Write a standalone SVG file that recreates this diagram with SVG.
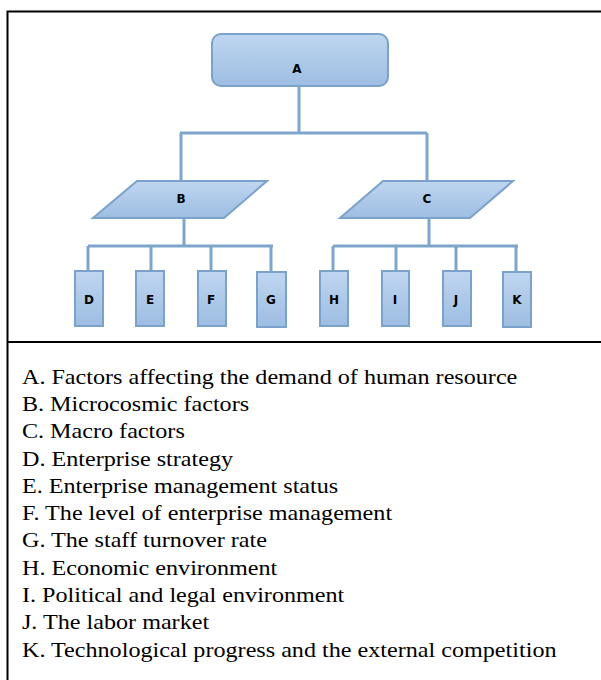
<svg xmlns="http://www.w3.org/2000/svg" width="601" height="680" viewBox="0 0 601 680">
<defs>
<linearGradient id="g" x1="0" y1="0" x2="0" y2="1">
<stop offset="0" stop-color="#bfd6f0"/>
<stop offset="1" stop-color="#9dbde2"/>
</linearGradient>
</defs>
<style>
.n{fill:url(#g);stroke:#7ba2ca;stroke-width:2}
.c{fill:none;stroke:#7ea6cc;stroke-width:3}
.l{font-family:"DejaVu Sans",Verdana,sans-serif;font-weight:bold;font-size:12px;fill:#000;text-anchor:middle}
.t{font-family:"Liberation Serif","Times New Roman",serif;font-size:21px;fill:#000}
.b{fill:none;stroke:#000;stroke-width:2}
</style>
<rect width="601" height="680" fill="#fff"/>
<g id="frame">
<path class="b" d="M7.5,680 V11.5 H601 M7.5,342 H601"/>
</g>
<g id="connectors">
<path class="c" d="M299,86 V133 M180,133 H427 M181,133 V181 M427,133 V181"/>
<path class="c" d="M184,218 V246 M88,246 H273 M88,246 V271 M151,246 V271 M211,246 V271 M271,246 V272"/>
<path class="c" d="M429,218 V246 M333,246 H518 M333,246 V271 M396,246 V271 M456,246 V271 M516,246 V272"/>
</g>
<g id="A"><rect class="n" x="212" y="34" width="176" height="52" rx="9"/><text class="l" x="297" y="72.5">A</text></g>
<g id="B"><polygon class="n" points="137,181 267,181 224,218 93,218"/><text class="l" x="181" y="202.5">B</text></g>
<g id="C"><polygon class="n" points="383,181 513,181 470,218 340,218"/><text class="l" x="427" y="202.5">C</text></g>
<g id="D"><rect class="n" x="75" y="271" width="28" height="55"/><text class="l" x="89" y="303.5">D</text></g>
<g id="E"><rect class="n" x="136" y="271" width="28" height="55"/><text class="l" x="150" y="303.5">E</text></g>
<g id="F"><rect class="n" x="198" y="271" width="28" height="55"/><text class="l" x="211" y="303.5">F</text></g>
<g id="G"><rect class="n" x="257" y="272" width="29" height="55"/><text class="l" x="271" y="303.5">G</text></g>
<g id="H"><rect class="n" x="320" y="271" width="28" height="55"/><text class="l" x="334" y="303.5">H</text></g>
<g id="I"><rect class="n" x="382" y="271" width="27" height="55"/><text class="l" x="395" y="303.5">I</text></g>
<g id="J"><rect class="n" x="443" y="271" width="28" height="55"/><text class="l" x="456" y="303.5">J</text></g>
<g id="K"><rect class="n" x="503" y="272" width="28" height="55"/><text class="l" x="517" y="303.5">K</text></g>
<g id="legend" transform="scale(1.15,1)">
<text class="t" x="19.1" y="384">A. Factors affecting the demand of human resource</text>
<text class="t" x="19.1" y="411">B. Microcosmic factors</text>
<text class="t" x="19.1" y="438">C. Macro factors</text>
<text class="t" x="19.1" y="466">D. Enterprise strategy</text>
<text class="t" x="19.1" y="493">E. Enterprise management status</text>
<text class="t" x="19.1" y="520">F. The level of enterprise management</text>
<text class="t" x="19.1" y="547">G. The staff turnover rate</text>
<text class="t" x="19.1" y="575">H. Economic environment</text>
<text class="t" x="19.1" y="602">I. Political and legal environment</text>
<text class="t" x="19.1" y="629">J. The labor market</text>
<text class="t" x="19.1" y="657">K. Technological progress and the external competition</text>
</g>
</svg>
